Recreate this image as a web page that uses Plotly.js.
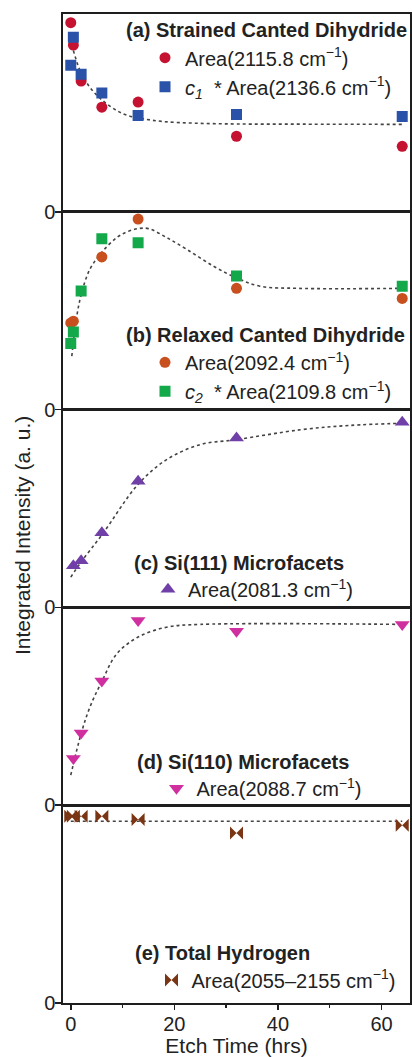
<!DOCTYPE html>
<html>
<head>
<meta charset="utf-8">
<script src="https://cdn.plot.ly/plotly-3.0.1.min.js"></script>
<style>html,body{margin:0;padding:0;background:#fff;}#chart{width:412px;height:1057px;}</style>
</head>
<body>
<div id="chart"></div>
<script>
// ---------- data (a.u., each panel 0..1) ----------
const timeA = [0, 0.5, 2, 6, 13, 32, 64];
const areaA2115 = [0.956, 0.843, 0.661, 0.529, 0.555, 0.382, 0.331];
const areaA2136 = [0.741, 0.882, 0.695, 0.601, 0.487, 0.492, 0.482];
const fitAx = [0.5, 2, 3.4, 5, 7, 9, 11, 14, 18, 24, 32, 45, 64];
const fitAy = [0.815, 0.70, 0.64, 0.59, 0.545, 0.51, 0.487, 0.47, 0.456, 0.448, 0.444, 0.443, 0.442];

const timeB1 = [0, 0.5, 6, 13, 32, 64];
const areaB2092 = [0.438, 0.447, 0.772, 0.963, 0.613, 0.562];
const timeB2 = [0, 0.5, 2, 6, 13, 32, 64];
const areaB2109 = [0.334, 0.392, 0.599, 0.864, 0.844, 0.675, 0.623];
const fitBx = [0.2, 1.15, 2.1, 3.7, 6, 8.9, 11, 13, 15, 18.5, 22.4, 27.5, 32, 36.5, 44, 64];
const fitBy = [0.27, 0.47, 0.59, 0.71, 0.795, 0.87, 0.90, 0.915, 0.915, 0.87, 0.81, 0.726, 0.666, 0.624, 0.613, 0.613];

const timeC = [0.5, 2, 6, 13, 32, 64];
const areaC2081 = [0.211, 0.236, 0.378, 0.638, 0.856, 0.936];
const fitCx = [0, 2, 6.1, 13, 18.5, 25, 32, 44.3, 53.9, 64];
const fitCy = [0.153, 0.23, 0.370, 0.622, 0.747, 0.823, 0.848, 0.898, 0.920, 0.931];

const timeD = [0.5, 2, 6, 13, 32, 64];
const areaD2088 = [0.236, 0.365, 0.628, 0.934, 0.880, 0.914];
const fitDx = [0, 2, 3.7, 6.1, 8.9, 13, 18.5, 25, 64];
const fitDy = [0.152, 0.362, 0.496, 0.631, 0.766, 0.850, 0.90, 0.914, 0.914];

const timeE = [0, 0.5, 2, 6, 13, 32, 64];
const areaETotal = [0.944, 0.944, 0.944, 0.944, 0.928, 0.860, 0.899];
const fitEx = [0, 64];
const fitEy = [0.919, 0.919];

const xTickVals = [0, 20, 40, 60];
const xTickText = ['0', '20', '40', '60'];
const xMinorVals = [10, 30, 50];
const yTickVals = [0];
const yTickText = ['0'];

// ---------- helpers ----------
const W = 412, H = 1057, ML = 63, MR = 2, MT = 14, MB = 54;
const PW = W - ML - MR, PH = H - MT - MB;
const px = p => (p - ML) / PW;
const py = p => (H - MB - p) / PH;
const FONT = 'Liberation Sans, Arial, Helvetica, sans-serif';
const AXC = '#1e1e1e';
const TXT = '#222';
const LW = 1.6;

const fitLine = {color: '#444', width: 1.6, dash: 'dot', shape: 'spline'};
function fit(x, y, xa, ya) {
  return {x: x, y: y, xaxis: xa, yaxis: ya, mode: 'lines', line: fitLine, showlegend: false, hoverinfo: 'skip'};
}
function pts(x, y, xa, ya, name, sym, color, size, leg) {
  return {x: x, y: y, xaxis: xa, yaxis: ya, mode: 'markers', name: name, legend: leg,
          marker: {symbol: sym, color: color, size: size, line: {width: 0}}};
}

const traces = [
  fit(fitAx, fitAy, 'x5', 'y5'),
  pts(timeA, areaA2115, 'x5', 'y5', 'Area(2115.8 cm<sup>−1</sup>)', 'circle', '#c41230', 11, 'legend'),
  pts(timeA, areaA2136, 'x5', 'y5', '<i>c<sub>1</sub></i>\u00a0 * Area(2136.6 cm<sup>−1</sup>)', 'square', '#2a52a8', 11, 'legend'),
  fit(fitBx, fitBy, 'x4', 'y4'),
  pts(timeB1, areaB2092, 'x4', 'y4', 'Area(2092.4 cm<sup>−1</sup>)', 'circle', '#c8501e', 11, 'legend2'),
  pts(timeB2, areaB2109, 'x4', 'y4', '<i>c<sub>2</sub></i>\u00a0 * Area(2109.8 cm<sup>−1</sup>)', 'square', '#13a84a', 11, 'legend2'),
  fit(fitCx, fitCy, 'x3', 'y3'),
  pts(timeC, areaC2081, 'x3', 'y3', 'Area(2081.3 cm<sup>−1</sup>)', 'triangle-up', '#7040a8', 13, 'legend3'),
  fit(fitDx, fitDy, 'x2', 'y2'),
  pts(timeD, areaD2088, 'x2', 'y2', 'Area(2088.7 cm<sup>−1</sup>)', 'triangle-down', '#d0309f', 13, 'legend4'),
  fit(fitEx, fitEy, 'x', 'y'),
  pts(timeE, areaETotal, 'x', 'y', 'Area(2055–2155 cm<sup>−1</sup>)', 'bowtie', '#7a3514', 13, 'legend5')
];

function yax(dom, anchor) {
  return {domain: dom, anchor: anchor, range: [0, 1], showline: true, linecolor: AXC, linewidth: LW, mirror: true,
          ticks: 'outside', ticklen: 6, tickwidth: 1.5, tickcolor: AXC, tickvals: yTickVals, ticktext: yTickText,
          ticklabelstandoff: -4,
          showgrid: false, zeroline: false, tickfont: {family: FONT, size: 20, color: TXT}};
}
function xsub(anchor) {
  return {matches: 'x', anchor: anchor, range: [-1.5, 65.5], showline: true, linecolor: AXC, linewidth: LW, mirror: true,
          ticks: '', showticklabels: false, showgrid: false, zeroline: false};
}
function leg(xp, itemY) {
  return {x: px(xp), y: py(itemY - 19.5), xanchor: 'left', yanchor: 'top', bgcolor: 'rgba(0,0,0,0)',
          font: {family: FONT, size: 20, color: TXT}, tracegroupgap: 0, borderwidth: 0};
}
function ttl(text, xp, yp) {
  return {text: '<b>' + text + '</b>', xref: 'paper', yref: 'paper', x: px(xp), y: py(yp), xanchor: 'left', yanchor: 'middle',
          showarrow: false, font: {family: FONT, size: 20, color: TXT}};
}

const layout = {
  width: W, height: H, margin: {l: ML, r: MR, t: MT, b: MB},
  paper_bgcolor: '#fff', plot_bgcolor: '#fff', showlegend: true,
  xaxis: {anchor: 'y', range: [-1.5, 65.5], showline: true, linecolor: AXC, linewidth: LW, mirror: true,
          ticks: 'outside', ticklen: 5, tickwidth: 1.5, tickcolor: AXC, tickvals: xTickVals, ticktext: xTickText,
          minor: {tickvals: xMinorVals, ticks: 'outside', ticklen: 3, tickcolor: AXC, tickwidth: 1.5},
          ticklabelstandoff: -3,
          showgrid: false, zeroline: false, tickfont: {family: FONT, size: 20, color: TXT},
          title: {text: 'Etch Time (hrs)', font: {family: FONT, size: 21, color: TXT}, standoff: 7}},
  xaxis2: xsub('y2'), xaxis3: xsub('y3'), xaxis4: xsub('y4'), xaxis5: xsub('y5'),
  yaxis: yax([0, 0.2], 'x'),
  yaxis2: yax([0.2, 0.4], 'x2'),
  yaxis3: yax([0.4, 0.6], 'x3'),
  yaxis4: yax([0.6, 0.8], 'x4'),
  yaxis5: yax([0.8, 1.0], 'x5'),
  legend: leg(145, 57.7), legend2: leg(145, 362.3), legend3: leg(148, 589.3), legend4: leg(156.5, 788.3), legend5: leg(151.5, 980),
  annotations: [
    ttl('(a) Strained Canted Dihydride', 124, 30),
    ttl('(b) Relaxed Canted Dihydride', 124, 335),
    ttl('(c) Si(111) Microfacets', 131.7, 563),
    ttl('(d) Si(110) Microfacets', 135, 762),
    ttl('(e) Total Hydrogen', 133.3, 953),
    {text: 'Integrated Intensity (a. u.)', xref: 'paper', yref: 'paper', x: px(22), y: py(536), xanchor: 'center', yanchor: 'middle',
     textangle: -90, showarrow: false, font: {family: FONT, size: 21, color: TXT}}
  ]
};

Plotly.newPlot('chart', traces, layout, {displayModeBar: false, staticPlot: true});
</script>
</body>
</html>
